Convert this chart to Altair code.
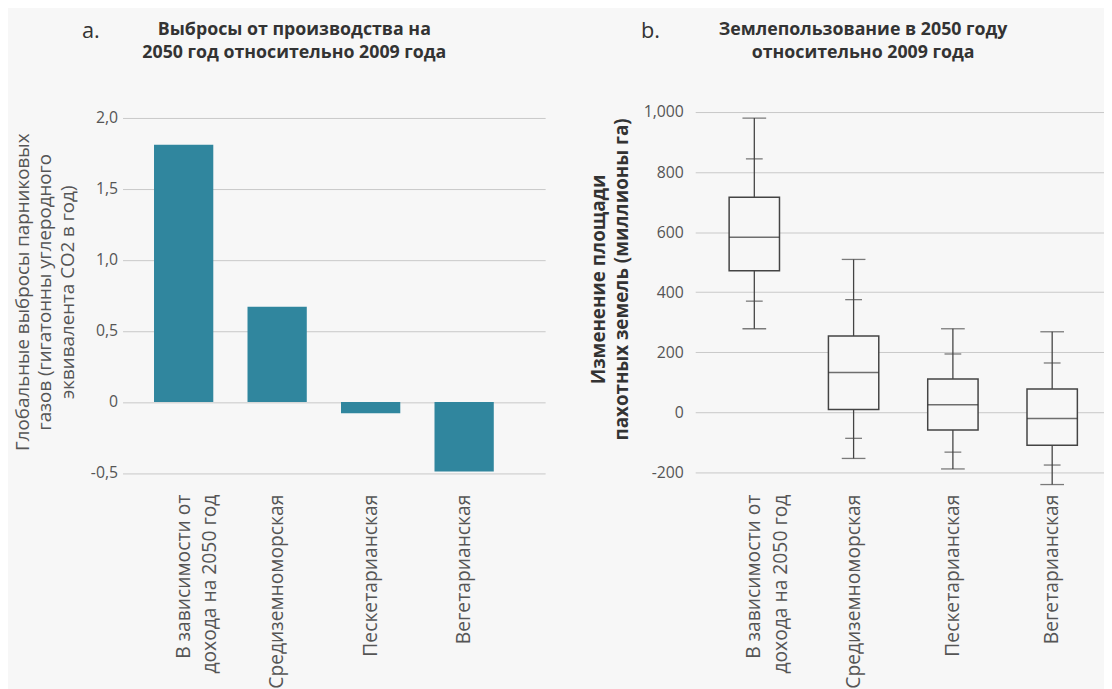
import altair as alt
import pandas as pd

# ---------------- data ----------------
diets = ["В зависимости от\nдохода на 2050 год", "Средиземноморская", "Пескетарианская", "Вегетарианская"]
emissions = [1.81, 0.67, -0.08, -0.49]

land_min = [278, -154, -189, -241]
land_p10 = [370, -87, -133, -176]
land_q1 = [471, 9, -59, -110]
land_median = [583, 132, 25, -21]
land_q3 = [716, 254, 111, 77]
land_p90 = [844, 375, 194, 164]
land_max = [980, 509, 278, 268]

emis_ticks = [-0.5, 0, 0.5, 1.0, 1.5, 2.0]
land_ticks = [-200, 0, 200, 400, 600, 800, 1000]

panel_letters = ["a.", "b."]
title_a = ["Выбросы от производства на", "2050 год относительно 2009 года"]
title_b = ["Землепользование в 2050 году", "относительно 2009 года"]
ytitle_a = ["Глобальные выбросы парниковых", "газов (гигатонны углеродного", "эквивалента CO2 в год)"]
ytitle_b = ["Изменение площади", "пахотных земель (миллионы га)"]

BG = "#f7f7f7"
FONT = "Open Sans"

emis_df = pd.DataFrame({"diet": diets, "value": emissions})
land_df = pd.DataFrame({
    "diet": diets, "mn": land_min, "p10": land_p10, "q1": land_q1,
    "med": land_median, "q3": land_q3, "p90": land_p90, "mx": land_max,
})


def x_axis():
    return alt.Axis(
        title=None, labelAngle=-90, labelExpr="split(datum.label, '\\n')",
        labelFontSize=19.5, labelColor="#555", labelLimit=400, labelLineHeight=26.7,
        ticks=False, domain=False, labelPadding=7, labelFont=FONT,
    )


def heading(lines, x):
    return alt.Chart(pd.DataFrame({"t": ["\n".join(lines)]})).mark_text(
        fontSize=18, fontWeight="bold", color="#333", font=FONT, align="center",
        baseline="alphabetic", lineBreak="\n", lineHeight=23.3,
    ).encode(text="t:N", x=alt.value(x), y=alt.value(-78))


def letter(t, x):
    return alt.Chart(pd.DataFrame({"t": [t]})).mark_text(
        fontSize=22, align="left", baseline="alphabetic", color="#333", font=FONT
    ).encode(text="t:N", x=alt.value(x), y=alt.value(-75))


# ---------------- panel a ----------------
xa = alt.X("diet:N", sort=diets,
           scale=alt.Scale(paddingInner=0.366, paddingOuter=0.443, align=0.38),
           axis=x_axis())
ya_axis = alt.Axis(
    values=emis_ticks,
    labelExpr="datum.value == 0 ? '0' : replace(replace(format(datum.value, '.1f'), '.', ','), '\u2212', '-')",
    grid=True, gridColor="#c8c8c8", gridWidth=1, ticks=False, domain=False,
    labelFontSize=16, labelColor="#555", labelPadding=5, labelFont=FONT,
    title=ytitle_a, titleFontSize=19, titleFontWeight="normal", titleColor="#555",
    titleLineHeight=23, titlePadding=13, titleFont=FONT, titleY=182,
)
bars = alt.Chart(emis_df).mark_bar(color="#30869e").encode(
    x=xa,
    y=alt.Y("value:Q", scale=alt.Scale(domain=[-0.6, 2.04], nice=False, zero=False), axis=ya_axis),
)

panel_a = alt.layer(bars, heading(title_a, 174), letter(panel_letters[0], -41)).properties(
    width=428, height=380,
)

# ---------------- panel b ----------------
xb = alt.X("diet:N", sort=diets,
           scale=alt.Scale(paddingInner=0.493, paddingOuter=0.305, align=0.56),
           axis=x_axis())
yb_scale = alt.Scale(domain=[-250, 1000], nice=False, zero=False)
yb_axis = alt.Axis(
    values=land_ticks,
    labelExpr="replace(format(datum.value, ','), '\u2212', '-')",
    grid=True, gridColor="#c8c8c8", gridWidth=1, ticks=False, domain=False,
    labelFontSize=16, labelColor="#555", labelPadding=12, labelFont=FONT,
    title=ytitle_b, titleFontSize=19, titleFontWeight="bold", titleColor="#333",
    titleLineHeight=23, titlePadding=12, titleFont=FONT, titleY=169,
)


def yb(field):
    return alt.Y(field, scale=yb_scale, axis=yb_axis)


base = alt.Chart(land_df).encode(x=xb)
whisker = base.mark_rule(color="#444", strokeWidth=1.3).encode(y=yb("mn:Q"), y2="mx:Q")
box = base.mark_bar(fill=BG, stroke="#444", strokeWidth=1.5, size=51).encode(y=yb("q1:Q"), y2="q3:Q")
median = base.mark_tick(color="#333", size=51, thickness=1.5).encode(y=yb("med:Q"))
cap_lo = base.mark_tick(color="#444", size=24, thickness=1.3).encode(y=yb("mn:Q"))
cap_hi = base.mark_tick(color="#444", size=24, thickness=1.3).encode(y=yb("mx:Q"))
pt_lo = base.mark_tick(color="#444", size=17, thickness=1.3).encode(y=yb("p10:Q"))
pt_hi = base.mark_tick(color="#444", size=17, thickness=1.3).encode(y=yb("p90:Q"))

panel_b = alt.layer(whisker, box, median, cap_lo, cap_hi, pt_lo, pt_hi,
                    heading(title_b, 170), letter(panel_letters[1], -55)).properties(
    width=414, height=380,
)

chart = alt.hconcat(panel_a, panel_b, spacing=45).properties(
    background=BG,
    padding={"left": 5, "top": 8, "right": 0, "bottom": 0},
).configure(font=FONT).configure_view(stroke=None)

chart.save("out.html", embed_options={"renderer": "svg", "actions": False})
